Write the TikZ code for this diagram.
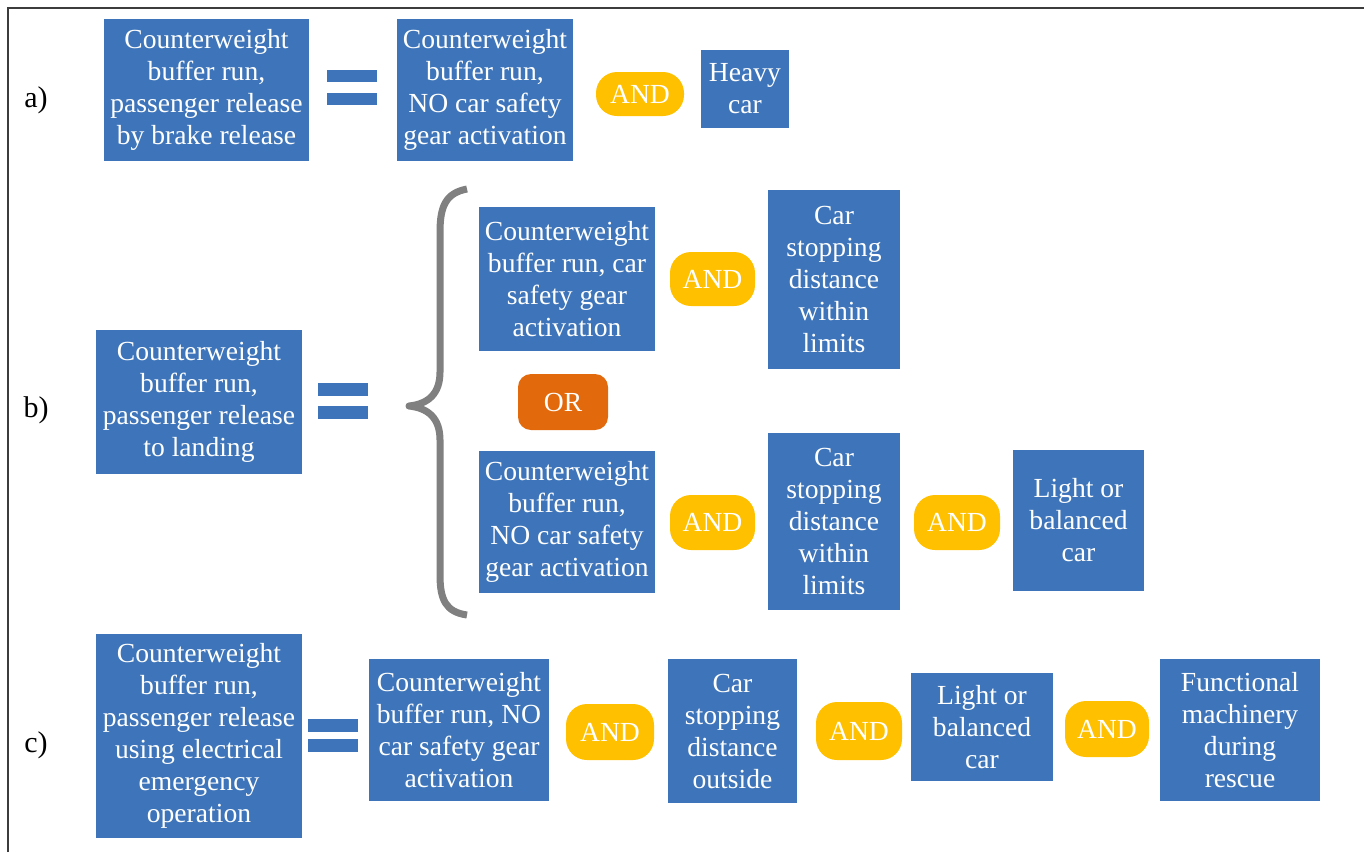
\documentclass[tikz,border=0pt]{standalone}
\usepackage{fontspec}
\newfontfamily\tnr{Liberation Serif}
\definecolor{boxblue}{RGB}{62,117,186}
\definecolor{andgold}{RGB}{255,192,0}
\definecolor{ororange}{RGB}{226,106,12}
\definecolor{bracegray}{RGB}{128,128,128}
\definecolor{framegray}{RGB}{60,60,60}
\begin{document}
\begin{tikzpicture}[x=1pt,y=-1pt,
  ftxt/.style={font=\tnr\fontsize{27.6}{32}\selectfont},
  bluebox/.style={fill=boxblue, text=white, ftxt, inner sep=0pt, align=center, minimum width=#1},
  andnode/.style={fill=andgold, text=white, ftxt, inner sep=0pt, rounded corners=21pt, minimum width=#1},
  ornode/.style={fill=ororange, text=white, ftxt, inner sep=0pt, rounded corners=13pt, minimum width=90pt, minimum height=56pt},
  eqbar/.style={fill=boxblue},
  rowlabel/.style={text=black, font=\tnr\fontsize{30}{34}\selectfont},
  bracestyle/.style={draw=bracegray, line width=7pt, line join=round}]
\useasboundingbox (0,0) rectangle (1364,852);
% frame
\draw[framegray, line width=2pt] (8,852) -- (8,8) -- (1364,8);

% row labels
\node[rowlabel] (la) at (36,100) {a)};
\node[rowlabel] (lb) at (36,410) {b)};
\node[rowlabel] (lc) at (36,745) {c)};

% row a
\node[bluebox=205pt, minimum height=142pt] (a1) at (206.5,90) {Counterweight\\buffer run,\\passenger release\\by brake release};
\fill[eqbar] (327,70) rectangle (377,82);
\fill[eqbar] (327,93) rectangle (377,105);
\node[bluebox=176pt, minimum height=142pt] (a2) at (485,90) {Counterweight\\buffer run,\\NO car safety\\gear activation};
\node[andnode=88pt, minimum height=44pt] (anda) at (640,94) {AND};
\node[bluebox=88pt, minimum height=78pt] (a3) at (745,89) {Heavy\\car};

% row b
\node[bluebox=206pt, minimum height=144pt] (b1) at (199,402) {Counterweight\\buffer run,\\passenger release\\to landing};
\fill[eqbar] (318,383) rectangle (368,396);
\fill[eqbar] (318,406) rectangle (368,419);
\draw[bracestyle] (467,189) .. controls (446,193) and (440,206) .. (440,232)
  -- (440,372) .. controls (440,394) and (428,404) .. (409,406)
  .. controls (428,408) and (440,418) .. (440,440)
  -- (440,575) .. controls (440,600) and (446,612) .. (467,615);
\node[bluebox=176pt, minimum height=144pt] (b2) at (567,279) {Counterweight\\buffer run, car\\safety gear\\activation};
\node[andnode=85pt, minimum height=54pt] (andb1) at (712.5,279) {AND};
\node[bluebox=132pt, minimum height=179pt] (b3) at (834,279.5) {Car\\stopping\\distance\\within\\limits};
\node[ornode] (or) at (563,402) {OR};
\node[bluebox=176pt, minimum height=142pt] (b4) at (567,522) {Counterweight\\buffer run,\\NO car safety\\gear activation};
\node[andnode=85pt, minimum height=55pt] (andb2) at (712.5,522.5) {AND};
\node[bluebox=132pt, minimum height=177pt] (b5) at (834,521.5) {Car\\stopping\\distance\\within\\limits};
\node[andnode=86pt, minimum height=55pt] (andb3) at (957,522.5) {AND};
\node[bluebox=131pt, minimum height=141pt] (b6) at (1078.5,520.5) {Light or\\balanced\\car};

% row c
\node[bluebox=206pt, minimum height=204pt] (c1) at (199,736) {Counterweight\\buffer run,\\passenger release\\using electrical\\emergency\\operation};
\fill[eqbar] (308,719) rectangle (358,732);
\fill[eqbar] (308,739) rectangle (358,752);
\node[bluebox=180pt, minimum height=142pt] (c2) at (459,730) {Counterweight\\buffer run, NO\\car safety gear\\activation};
\node[andnode=88pt, minimum height=56pt] (andc1) at (610,732) {AND};
\node[bluebox=129pt, minimum height=144pt] (c3) at (732.5,731) {Car\\stopping\\distance\\outside};
\node[andnode=86pt, minimum height=58pt] (andc2) at (859,731) {AND};
\node[bluebox=142pt, minimum height=108pt] (c4) at (982,727) {Light or\\balanced\\car};
\node[andnode=84pt, minimum height=56pt] (andc3) at (1107,729) {AND};
\node[bluebox=160pt, minimum height=142pt] (c5) at (1240,730) {Functional\\machinery\\during\\rescue};
\end{tikzpicture}
\end{document}
